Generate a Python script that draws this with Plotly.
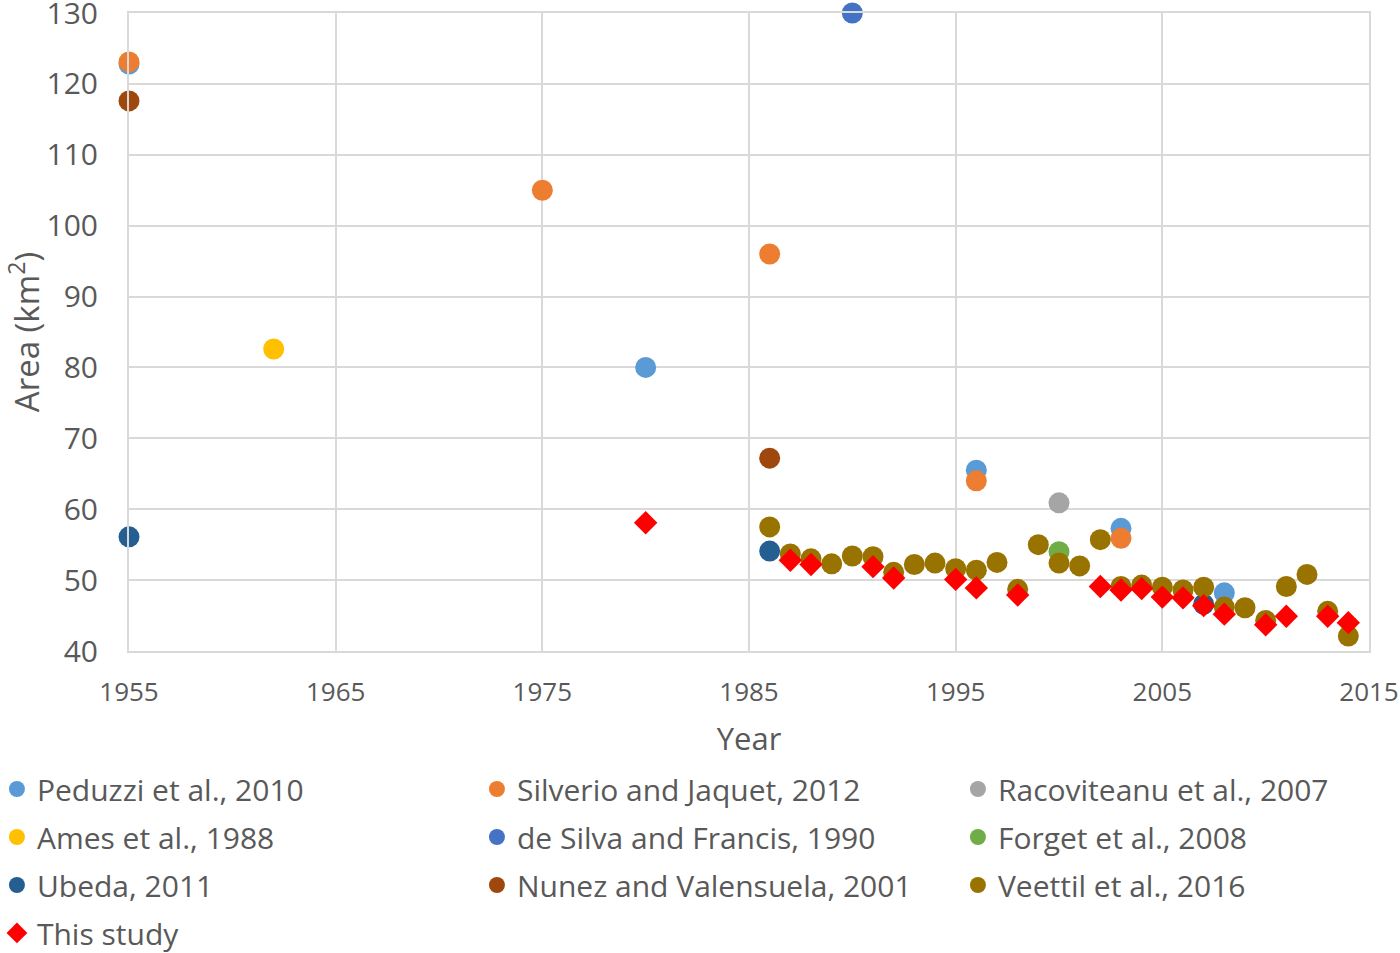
import plotly.graph_objects as go

# values
peduzzi_year = [1955, 1980, 1996, 2003, 2008]
peduzzi_area = [122.8, 80.0, 65.5, 57.3, 48.2]

silverio_year = [1955, 1975, 1986, 1996, 2003]
silverio_area = [123.1, 105.0, 96.0, 64.0, 55.9]

racoviteanu_year = [2000]
racoviteanu_area = [60.9]

ames_year = [1962]
ames_area = [82.6]

desilva_year = [1990]
desilva_area = [130.0]

forget_year = [2000]
forget_area = [54.0]

ubeda_year = [1955, 1986, 2007]
ubeda_area = [56.1, 54.1, 46.6]

nunez_year = [1955, 1986]
nunez_area = [117.6, 67.2]

veettil_year = list(range(1986, 2015))
veettil_area = [57.5, 53.7, 53.0, 52.3, 53.4, 53.3, 51.1, 52.2, 52.4, 51.6,
                51.4, 52.5, 48.7, 55.0, 52.4, 52.0, 55.7, 49.1, 49.3, 49.0,
                48.6, 49.0, 46.2, 46.1, 44.3, 49.1, 50.8, 45.6, 42.1]

study_year = [1980, 1987, 1988, 1991, 1992, 1995, 1996, 1998, 2002, 2003,
              2004, 2005, 2006, 2007, 2008, 2010, 2011, 2013, 2014]
study_area = [58.1, 52.8, 52.2, 51.9, 50.3, 50.1, 48.9, 47.9, 49.1, 48.6,
              48.8, 47.6, 47.5, 46.4, 45.2, 43.7, 44.9, 44.9, 44.0]

FONT = "Open Sans"
TEXT = "#595959"
GRID = "#D9D9D9"

# (name, x, y, colour, legend column)
series = [
    ("Peduzzi et al., 2010", peduzzi_year, peduzzi_area, "#5B9BD5", "legend"),
    ("Silverio and Jaquet, 2012", silverio_year, silverio_area, "#ED7D31", "legend2"),
    ("Racoviteanu et al., 2007", racoviteanu_year, racoviteanu_area, "#A5A5A5", "legend3"),
    ("Ames et al., 1988", ames_year, ames_area, "#FFC000", "legend"),
    ("de Silva and Francis, 1990", desilva_year, desilva_area, "#4472C4", "legend2"),
    ("Forget et al., 2008", forget_year, forget_area, "#70AD47", "legend3"),
    ("Ubeda, 2011", ubeda_year, ubeda_area, "#255E91", "legend"),
    ("Nunez and Valensuela, 2001", nunez_year, nunez_area, "#9E480E", "legend2"),
    ("Veettil et al., 2016", veettil_year, veettil_area, "#997300", "legend3"),
]

fig = go.Figure()

for name, xs, ys, color, leg in series:
    fig.add_trace(
        go.Scatter(
            mode="markers",
            x=xs,
            y=ys,
            name=name,
            legend=leg,
            legendgroup=name,
            marker={"color": color, "size": 21, "line": {"width": 0}},
            cliponaxis=False,
        )
    )

fig.add_trace(
    go.Scatter(
        mode="markers",
        x=study_year,
        y=study_area,
        name="This study",
        legend="legend",
        legendgroup="This study",
        marker={"color": "#FF0000", "size": 18, "symbol": "diamond", "line": {"width": 0}},
        cliponaxis=False,
    )
)

legend_style = {
    "orientation": "v",
    "yanchor": "top",
    "y": -0.1755,
    "xanchor": "left",
    "font": {"family": FONT, "size": 30, "color": TEXT},
    "tracegroupgap": 6,
    "traceorder": "grouped",
    "bgcolor": "rgba(0,0,0,0)",
}

fig.update_layout(
    width=1400,
    height=953,
    margin={"l": 129, "r": 31, "t": 13, "b": 302, "autoexpand": False},
    plot_bgcolor="white",
    paper_bgcolor="white",
    font={"family": FONT, "color": TEXT},
    showlegend=True,
    legend={**legend_style, "x": -0.1065},
    legend2={**legend_style, "x": 0.2806},
    legend3={**legend_style, "x": 0.6685},
    xaxis={
        "range": [1955, 2015],
        "tick0": 1955,
        "dtick": 10,
        "showgrid": True,
        "gridcolor": GRID,
        "gridwidth": 2,
        "showline": True,
        "mirror": True,
        "linecolor": GRID,
        "linewidth": 2,
        "zeroline": False,
        "ticks": "outside",
        "ticklen": 17,
        "tickcolor": "rgba(0,0,0,0)",
        "ticklabeloverflow": "allow",
        "tickfont": {"family": FONT, "size": 26, "color": TEXT},
        "title": {"text": "Year", "font": {"family": FONT, "size": 31, "color": TEXT}, "standoff": 20},
    },
    yaxis={
        "range": [40, 130],
        "dtick": 10,
        "showgrid": True,
        "gridcolor": GRID,
        "gridwidth": 2,
        "showline": True,
        "mirror": True,
        "linecolor": GRID,
        "linewidth": 2,
        "zeroline": False,
        "ticks": "outside",
        "ticklen": 23,
        "tickcolor": "rgba(0,0,0,0)",
        "ticklabeloverflow": "allow",
        "tickfont": {"family": FONT, "size": 30, "color": TEXT},
        "title": {"text": "Area (km<sup>2</sup>)", "font": {"family": FONT, "size": 33, "color": TEXT}, "standoff": 15},
    },
)

# drop the default body margin so the figure sits at the page corner
fig.write_html(
    "out.html",
    config={"displayModeBar": False},
    post_script="document.body.style.margin='0';",
)
